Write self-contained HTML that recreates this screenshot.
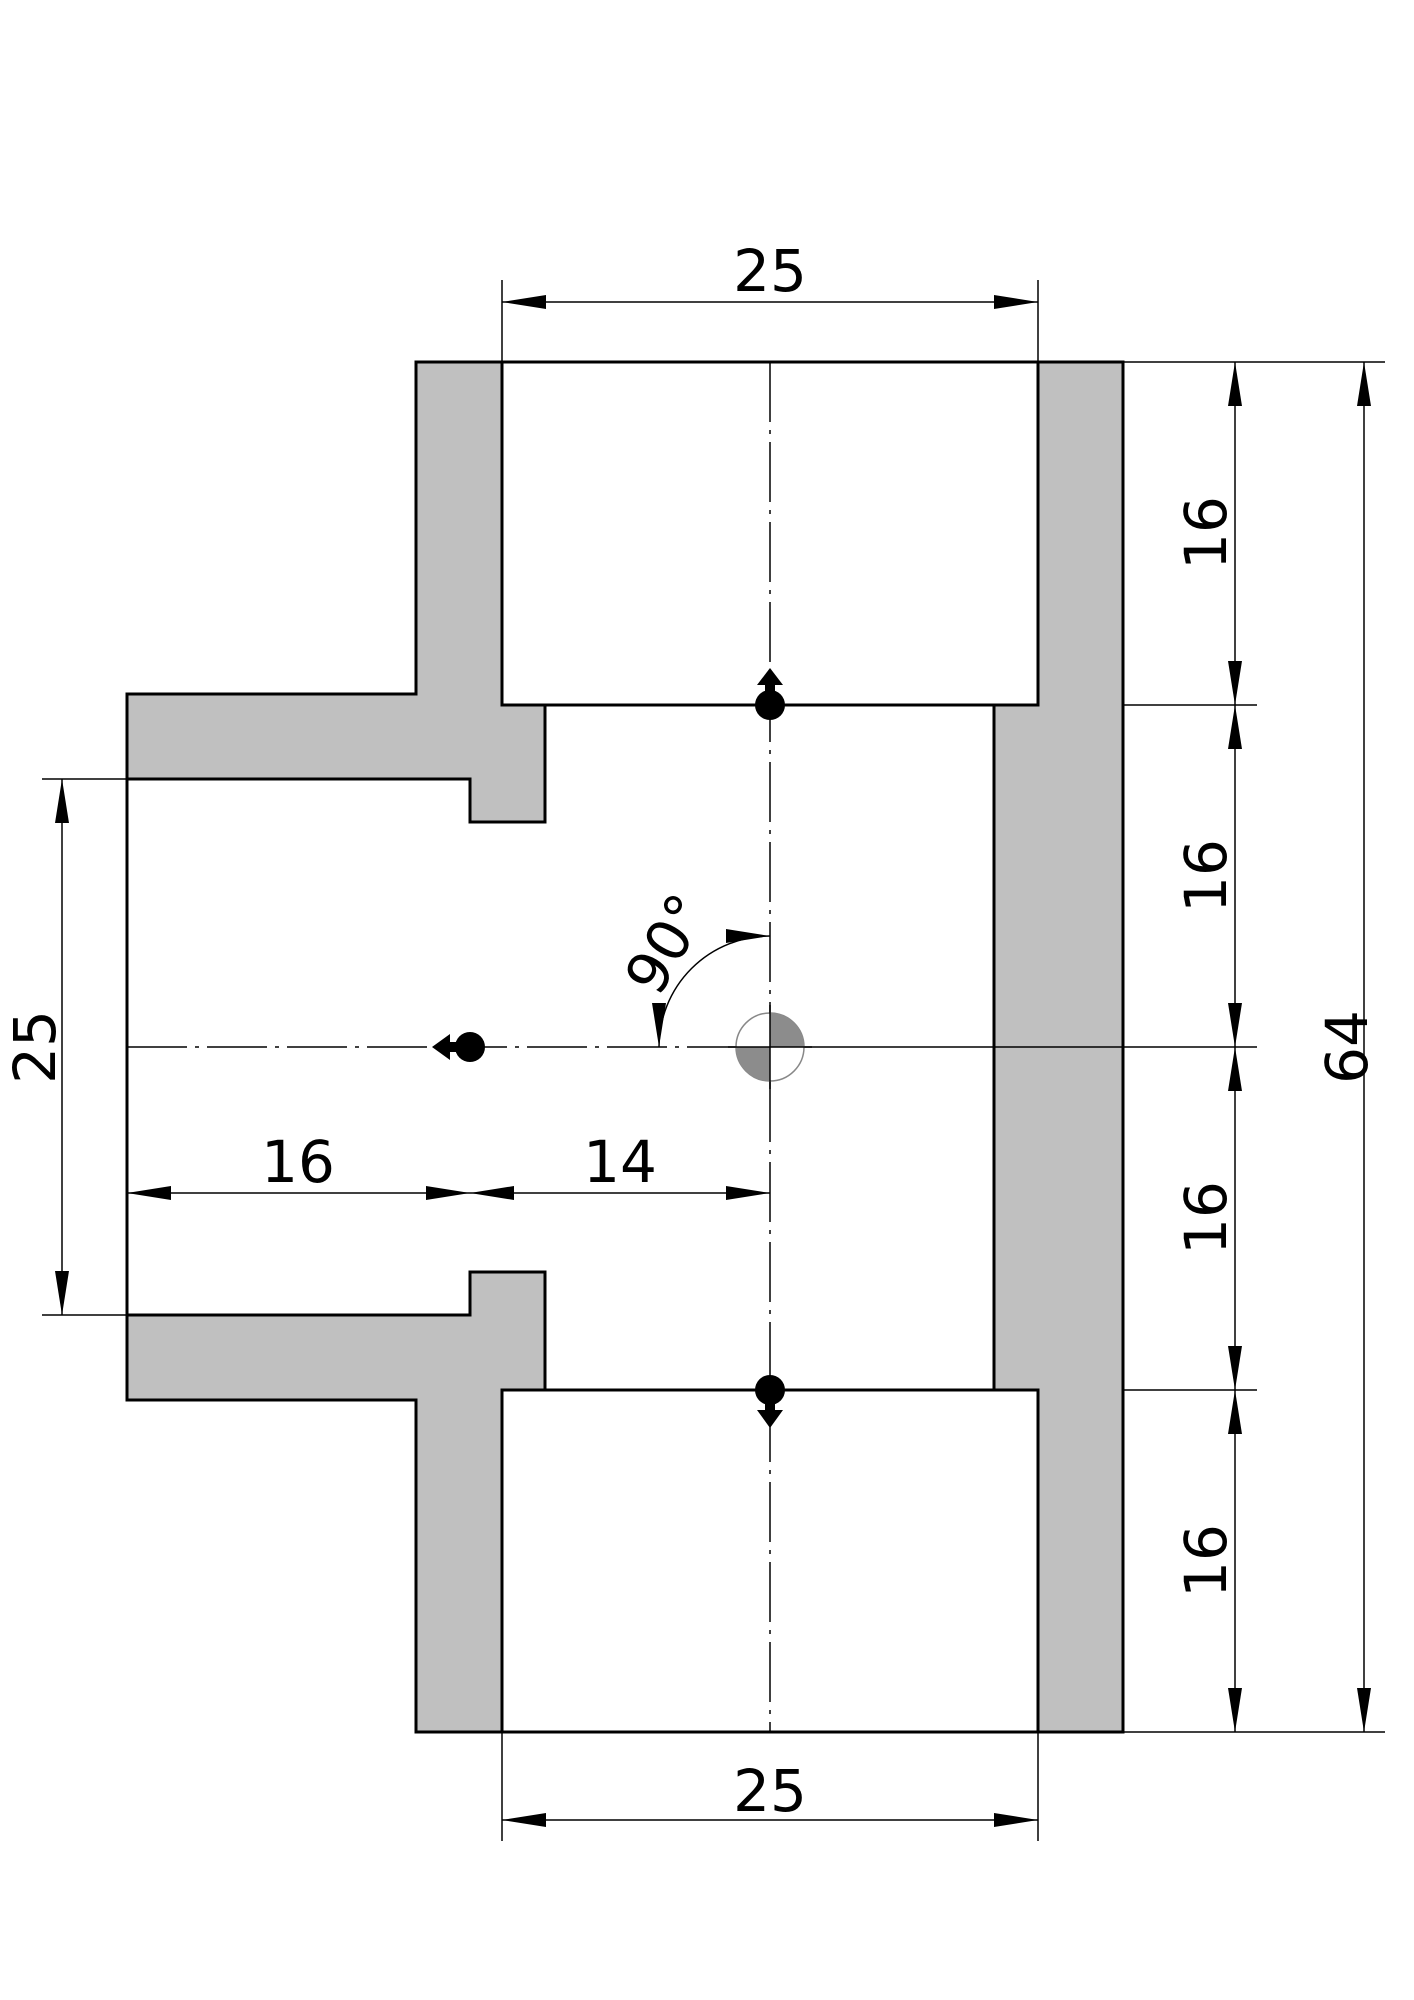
<!DOCTYPE html>
<html><head><meta charset="utf-8"><style>html,body{margin:0;padding:0;background:#fff}svg{display:block}</style></head>
<body>
<svg width="1414" height="2000" viewBox="0 0 1414 2000" xmlns="http://www.w3.org/2000/svg" font-family="'DejaVu Sans','Liberation Sans',sans-serif">
<defs>
<marker id="a" viewBox="0 0 44 14" refX="44" refY="7" markerWidth="44" markerHeight="14" markerUnits="userSpaceOnUse" orient="auto-start-reverse">
<path d="M44,7 L0,0 L0,14 Z" fill="#000"/></marker>
</defs>
<path d="M416,362 L1123,362 L1123,1732 L416,1732 L416,1400 L127,1400 L127,694 L416,694 Z" fill="#c0c0c0" stroke="#000" stroke-width="3"/>
<rect x="502" y="362" width="536" height="343" fill="#fff" stroke="#000" stroke-width="3"/>
<rect x="502" y="1390" width="536" height="342" fill="#fff" stroke="#000" stroke-width="3"/>
<path d="M545,705 L994,705 L994,1390 L545,1390 L545,1272 L470,1272 L470,1315 L127,1315 L127,779 L470,779 L470,822 L545,822 Z" fill="#fff" stroke="#000" stroke-width="3"/>
<line x1="502" y1="705" x2="1038" y2="705" stroke="#000" stroke-width="3"/>
<line x1="502" y1="1390" x2="1038" y2="1390" stroke="#000" stroke-width="3"/>
<line x1="770" y1="362" x2="770" y2="1732" stroke="#000" stroke-width="1.5" stroke-dasharray="60,8,4,8"/>
<line x1="127" y1="1047" x2="770" y2="1047" stroke="#000" stroke-width="1.5" stroke-dasharray="60,8,4,8"/>
<line x1="770" y1="1047" x2="1257" y2="1047" stroke="#000" stroke-width="1.5"/>
<g stroke="#000" stroke-width="1.5">
<line x1="502" y1="280" x2="502" y2="362"/><line x1="1038" y1="280" x2="1038" y2="362"/>
<line x1="502" y1="1732" x2="502" y2="1841"/><line x1="1038" y1="1732" x2="1038" y2="1841"/>
<line x1="1123" y1="362" x2="1385" y2="362"/><line x1="1123" y1="1732" x2="1385" y2="1732"/>
<line x1="1123" y1="705" x2="1257" y2="705"/><line x1="1123" y1="1390" x2="1257" y2="1390"/>
<line x1="42" y1="779" x2="127" y2="779"/><line x1="42" y1="1315" x2="127" y2="1315"/>
</g>
<g stroke="#000" stroke-width="1.5" marker-start="url(#a)" marker-end="url(#a)">
<line x1="502" y1="302" x2="1038" y2="302"/>
<line x1="502" y1="1820" x2="1038" y2="1820"/>
<line x1="1235" y1="362" x2="1235" y2="705"/>
<line x1="1235" y1="705" x2="1235" y2="1047"/>
<line x1="1235" y1="1047" x2="1235" y2="1390"/>
<line x1="1235" y1="1390" x2="1235" y2="1732"/>
<line x1="1364" y1="362" x2="1364" y2="1732"/>
<line x1="62" y1="779" x2="62" y2="1315"/>
<line x1="127" y1="1193" x2="470" y2="1193"/>
<line x1="470" y1="1193" x2="770" y2="1193"/>
</g>
<path d="M770,936 A111,111 0 0 0 659,1047" fill="none" stroke="#000" stroke-width="1.5" marker-start="url(#a)" marker-end="url(#a)"/>
<circle cx="770" cy="1047" r="34" fill="#fff" stroke="#888" stroke-width="1.5"/>
<path d="M770,1047 L770,1013 A34,34 0 0 1 804,1047 Z" fill="#8c8c8c"/>
<path d="M770,1047 L770,1081 A34,34 0 0 1 736,1047 Z" fill="#8c8c8c"/>
<line x1="770" y1="1005" x2="770" y2="1089" stroke="#000" stroke-width="1.5"/>
<line x1="728" y1="1047" x2="812" y2="1047" stroke="#000" stroke-width="1.5"/>
<g fill="#000">
<circle cx="770" cy="705" r="15"/><rect x="765" y="680" width="10" height="20"/><path d="M757,685 L770,668 L783,685 Z"/>
<circle cx="770" cy="1390" r="15"/><rect x="765" y="1395" width="10" height="20"/><path d="M757,1410 L770,1428 L783,1410 Z"/>
<circle cx="470" cy="1047" r="15"/><rect x="445" y="1042" width="20" height="10"/><path d="M450,1034 L432,1047 L450,1060 Z"/>
</g>
<g font-size="58" fill="#000" text-anchor="middle">
<text x="770" y="291">25</text>
<text x="770" y="1811">25</text>
<text x="298" y="1182">16</text>
<text x="620" y="1182">14</text>
<text transform="translate(1226,533) rotate(-90)">16</text>
<text transform="translate(1226,876) rotate(-90)">16</text>
<text transform="translate(1226,1218) rotate(-90)">16</text>
<text transform="translate(1226,1561) rotate(-90)">16</text>
<text transform="translate(1367,1047) rotate(-90)">64</text>
<text transform="translate(55,1047) rotate(-90)">25</text>
<text transform="translate(684,954) rotate(-60)">90°</text>
</g>
</svg>
</body></html>
